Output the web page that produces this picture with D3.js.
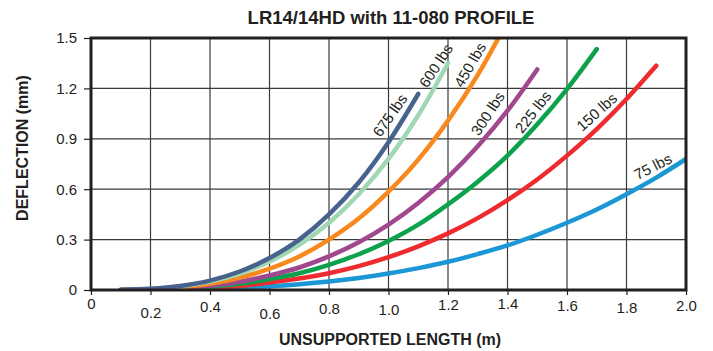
<!DOCTYPE html>
<html>
<head>
<meta charset="utf-8">
<script src="https://cdn.jsdelivr.net/npm/d3@7"></script>
<style>
  body { margin: 0; background: #fff; }
  svg text { font-family: "Liberation Sans", Arial, sans-serif; fill: #231f20; }
  .ttl { font-family: "Liberation Sans Narrow", "Liberation Sans", Arial, sans-serif; font-weight: bold; }
</style>
</head>
<body>
<svg width="713" height="351"></svg>
<script>
// unsupported length (m)
const lengths = [0.1, 0.2, 0.3, 0.4, 0.5, 0.6, 0.7, 0.8, 0.9, 1.0, 1.1, 1.2, 1.3, 1.4, 1.5, 1.6, 1.7, 1.8, 1.9, 2.0];

// deflection (mm) per load
const lbs75  = [0.0001, 0.0008, 0.003, 0.006, 0.012, 0.022, 0.034, 0.05, 0.071, 0.098, 0.13, 0.168, 0.214, 0.265, 0.329, 0.40, 0.479, 0.57, 0.669, 0.78];
const lbs150 = [0.0002, 0.0016, 0.005, 0.012, 0.024, 0.044, 0.068, 0.10, 0.142, 0.195, 0.26, 0.337, 0.428, 0.535, 0.658, 0.80, 0.958, 1.137, 1.335];
const lbs225 = [0.0003, 0.002, 0.008, 0.019, 0.037, 0.065, 0.10, 0.15, 0.213, 0.292, 0.389, 0.51, 0.645, 0.80, 0.986, 1.196, 1.434];
const lbs300 = [0.0004, 0.003, 0.011, 0.025, 0.049, 0.086, 0.134, 0.20, 0.284, 0.389, 0.518, 0.672, 0.855, 1.067, 1.313];
const lbs450 = [0.001, 0.005, 0.016, 0.037, 0.073, 0.127, 0.20, 0.30, 0.425, 0.585, 0.776, 1.008, 1.28, 1.60];
const lbs600 = [0.001, 0.006, 0.021, 0.05, 0.098, 0.169, 0.268, 0.40, 0.57, 0.78, 1.04, 1.35];
const lbs675 = [0.001, 0.007, 0.024, 0.056, 0.11, 0.19, 0.30, 0.45, 0.64, 0.88, 1.167];

const loads = ["75 lbs", "150 lbs", "225 lbs", "300 lbs", "450 lbs", "600 lbs", "675 lbs"];
const colors = ["#1c97d5", "#ee2b2e", "#0ba24b", "#a0478f", "#f7891f", "#a0d8b3", "#48628e"];

const xTicks = [0, 0.2, 0.4, 0.6, 0.8, 1.0, 1.2, 1.4, 1.6, 1.8, 2.0];
const yTicks = [0, 0.3, 0.6, 0.9, 1.2, 1.5];

const series = [lbs75, lbs150, lbs225, lbs300, lbs450, lbs600, lbs675].map((vals, i) => ({
    name: loads[i],
    color: colors[i],
    points: vals.map((v, j) => [lengths[j], v])
}));

// where the load names sit (data units) and their angle
const labelAt = [[1.889, 0.735, -27], [1.70, 1.06, -42], [1.486, 1.06, -52], [1.334, 1.05, -57], [1.274, 1.34, -60], [1.16, 1.335, -57], [1.005, 1.04, -55]];
// the x tick labels in the picture are staggered up and down
const xLabelDrop = [0, 9, 3, 10, 5, 6, 1, 0, 2, 4, 2];

var svg = d3.select("svg"),
    margin = {top: 38, right: 27, bottom: 61, left: 91},
    width = +svg.attr("width") - margin.left - margin.right,
    height = +svg.attr("height") - margin.top - margin.bottom;

var x = d3.scaleLinear().domain([0, 2]).range([0, width]);
var y = d3.scaleLinear().domain([0, 1.5]).range([height, 0]);

var g = svg.append("g")
    .attr("transform", "translate(" + margin.left + "," + margin.top + ")");

svg.append("defs").append("clipPath").attr("id", "plot")
    .append("rect").attr("width", width).attr("height", height);

// grid
g.selectAll(".vg").data(xTicks.slice(1, -1)).enter().append("line")
    .attr("x1", d => x(d)).attr("x2", d => x(d))
    .attr("y1", 0).attr("y2", height)
    .attr("stroke", "#3a3a3a").attr("stroke-width", 1.2);
g.selectAll(".hg").data(yTicks.slice(1, -1)).enter().append("line")
    .attr("x1", 0).attr("x2", width)
    .attr("y1", d => y(d)).attr("y2", d => y(d))
    .attr("stroke", "#3a3a3a").attr("stroke-width", 1.2);

// axes: only ticks and labels, the frame is drawn below
var xAxis = g.append("g")
    .attr("transform", "translate(0," + height + ")")
    .call(d3.axisBottom(x).tickValues(xTicks).tickSize(5).tickPadding(3)
        .tickFormat(d => d === 0 ? "0" : d3.format(".1f")(d)));
xAxis.select(".domain").remove();
xAxis.selectAll("line").attr("stroke", "#231f20").attr("stroke-width", 1.2);
xAxis.selectAll("text")
    .style("font-size", "15px")
    .attr("dy", (d, i) => (0.71 + xLabelDrop[i] / 15) + "em");

var yAxis = g.append("g")
    .call(d3.axisLeft(y).tickValues(yTicks).tickSize(7).tickPadding(7)
        .tickFormat(d => d === 0 ? "0" : d3.format(".1f")(d)));
yAxis.select(".domain").remove();
yAxis.selectAll("line").attr("stroke", "#231f20").attr("stroke-width", 1.2);
yAxis.selectAll("text").style("font-size", "15px");

// curves
var line = d3.line()
    .x(d => x(d[0]))
    .y(d => y(d[1]))
    .curve(d3.curveMonotoneX);

g.append("g").attr("clip-path", "url(#plot)")
    .selectAll(".curve").data(series).enter().append("path")
    .attr("class", "curve")
    .attr("d", d => line(d.points))
    .attr("fill", "none")
    .attr("stroke", d => d.color)
    .attr("stroke-width", 4.5)
    .attr("stroke-linecap", "round");

// frame
g.append("rect")
    .attr("width", width).attr("height", height)
    .attr("fill", "none").attr("stroke", "#231f20").attr("stroke-width", 3);

// load names
g.selectAll(".lbl").data(series).enter().append("text")
    .attr("transform", (d, i) => "translate(" + x(labelAt[i][0]) + "," + y(labelAt[i][1]) + ") rotate(" + labelAt[i][2] + ")")
    .attr("text-anchor", "middle")
    .attr("dy", "0.35em")
    .style("font-size", "15px")
    .text(d => d.name);

// titles
svg.append("text").attr("class", "ttl")
    .attr("x", 391).attr("y", 24)
    .attr("text-anchor", "middle")
    .style("font-size", "18.5px")
    .text("LR14/14HD with 11-080 PROFILE");

svg.append("text").attr("class", "ttl")
    .attr("x", 390).attr("y", 345)
    .attr("text-anchor", "middle")
    .style("font-size", "16px")
    .text("UNSUPPORTED LENGTH (m)");

svg.append("text").attr("class", "ttl")
    .attr("transform", "translate(28,148) rotate(-90)")
    .attr("text-anchor", "middle")
    .style("font-size", "16px")
    .text("DEFLECTION (mm)");
</script>
</body>
</html>
